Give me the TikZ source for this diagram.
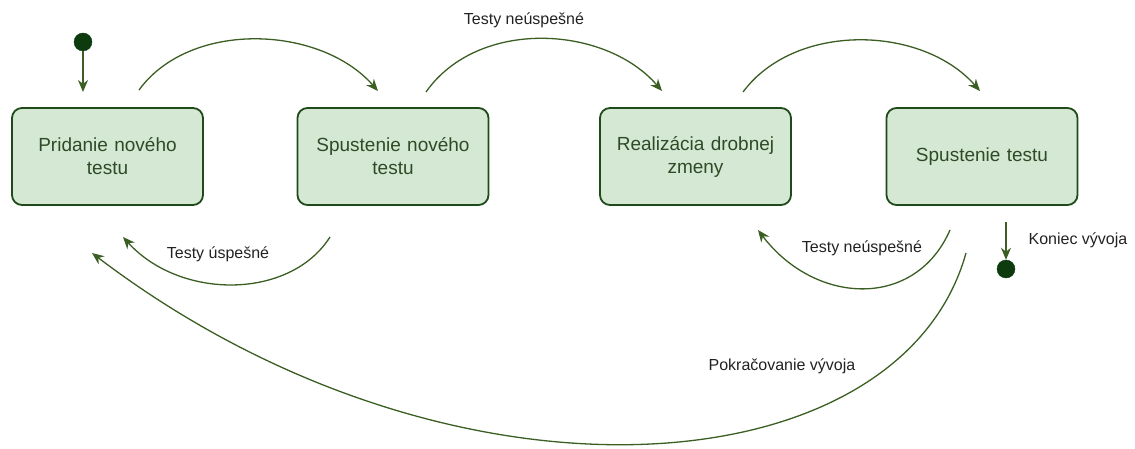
\documentclass[tikz,border=0pt]{standalone}
\usepackage{fontspec}
\setmainfont{Liberation Sans}
\usetikzlibrary{arrows.meta}
\definecolor{boxfill}{HTML}{D5E8D4}
\definecolor{boxline}{HTML}{1F4A1A}
\definecolor{edgecol}{HTML}{3B5E23}
\definecolor{dotcol}{HTML}{0D3B0D}
\definecolor{boxtext}{HTML}{2E4A26}
\definecolor{lbltext}{HTML}{222222}
\tikzset{
  state/.style={draw=boxline, fill=boxfill, line width=1.8pt, rounded corners=10pt,
    minimum width=191pt, minimum height=97pt, align=center, text=boxtext,
    font=\fontsize{19pt}{23pt}\selectfont, text width=180pt},
  dot/.style={circle, fill=dotcol, draw=dotcol, minimum size=18pt, inner sep=0pt},
  edge/.style={draw=edgecol, line width=1.3pt, -{Stealth[length=12pt,width=10pt]}},
  lbl/.style={text=lbltext, font=\fontsize{16pt}{19pt}\selectfont, inner sep=1pt},
}
\begin{document}
\begin{tikzpicture}[x=1pt,y=-1pt]
\useasboundingbox (0,0) rectangle (1135,449);
\node[state] (b1) at (107.5,156.5) {Pridanie nového\\testu};
\node[state] (b2) at (393,156.5) {Spustenie nového\\testu};
\node[state] (b3) at (695.5,156.5) {Realizácia drobnej\\zmeny};
\node[state] (b4) at (982,156.5) {Spustenie testu};
\node[dot] (s) at (83,42) {};
\node[dot] (e) at (1006,269) {};
\coordinate (sA) at (83,92);
\coordinate (eA) at (1006,222);
\coordinate (a1) at (139,90);
\coordinate (a1e) at (378,91);
\coordinate (a2) at (426,92);
\coordinate (a2e) at (662,91);
\coordinate (a3) at (743,92);
\coordinate (a3e) at (980,91);
\coordinate (r1) at (330,237);
\coordinate (r1e) at (123,237);
\coordinate (r2) at (950,230);
\coordinate (r2e) at (758,230);
\coordinate (r3) at (966,253);
\coordinate (r3e) at (92,253);

\draw[edge] (s) -- (sA);
\draw[edge] (eA) -- (e);
\draw[edge] (a1) .. controls (190,20) and (320,25) .. (a1e);
\draw[edge] (a2) .. controls (478,18) and (605,25) .. (a2e);
\draw[edge] (a3) .. controls (795,22) and (922,25) .. (a3e);
\draw[edge] (r1) .. controls (290,300) and (180,300) .. (r1e);
\draw[edge] (r2) .. controls (915,310) and (815,305) .. (r2e);
\draw[edge] (r3) .. controls (900,490) and (450,525) .. (r3e);

\node[lbl] (l1) at (524,20) {Testy neúspešné};
\node[lbl] (l2) at (218,254) {Testy úspešné};
\node[lbl] (l3) at (862,248) {Testy neúspešné};
\node[lbl] (l4) at (1078,240) {Koniec vývoja};
\node[lbl] (l5) at (782,366) {Pokračovanie vývoja};
\end{tikzpicture}
\end{document}
